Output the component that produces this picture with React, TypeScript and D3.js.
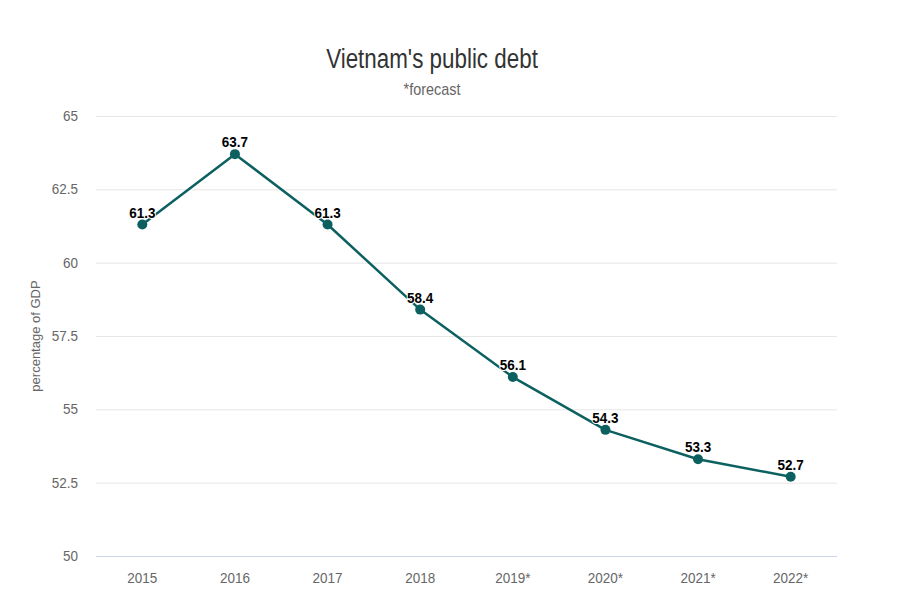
import React, { useRef, useEffect } from 'react';
import * as d3 from 'd3';

// chart data
const years = ['2015', '2016', '2017', '2018', '2019*', '2020*', '2021*', '2022*'];
const debtValues = [61.3, 63.7, 61.3, 58.4, 56.1, 54.3, 53.3, 52.7];
const yTicks = [50, 52.5, 55, 57.5, 60, 62.5, 65];

const LINE_COLOR = '#0c6160';
const FONT = '"Liberation Sans", Arial, sans-serif';

const App = () => {
    const svgRef = useRef<SVGSVGElement>(null);
    const width = 900;
    const height = 600;
    const margin = { top: 116, right: 63, bottom: 44, left: 96 };

    useEffect(() => {
        const svg = d3.select(svgRef.current);
        svg.selectAll('*').remove();

        const innerWidth = width - margin.left - margin.right;
        const innerHeight = height - margin.top - margin.bottom;

        svg.append('rect')
            .attr('width', width)
            .attr('height', height)
            .attr('fill', '#ffffff');

        // title (the original font is a narrow one, so squeeze it a bit)
        svg.append('text')
            .attr('transform', 'translate(432,68) scale(0.8,1)')
            .attr('text-anchor', 'middle')
            .attr('font-family', FONT)
            .attr('font-size', 28)
            .attr('fill', '#333333')
            .text("Vietnam's public debt");

        svg.append('text')
            .attr('transform', 'translate(432,95) scale(0.9,1)')
            .attr('text-anchor', 'middle')
            .attr('font-family', FONT)
            .attr('font-size', 16)
            .attr('fill', '#666666')
            .text('*forecast');

        const xScale = d3.scaleBand()
            .domain(years)
            .range([0, innerWidth]);

        const yScale = d3.scaleLinear()
            .domain([50, 65])
            .range([innerHeight, 0]);

        const g = svg.append('g')
            .attr('transform', `translate(${margin.left},${margin.top})`);

        // gridlines
        g.selectAll('.grid')
            .data(yTicks.filter(t => t !== 50))
            .enter()
            .append('line')
            .attr('x1', 0)
            .attr('x2', innerWidth)
            .attr('y1', d => yScale(d) + 0.5)
            .attr('y2', d => yScale(d) + 0.5)
            .attr('stroke', '#e6e6e6')
            .attr('stroke-width', 1);

        // baseline
        g.append('line')
            .attr('x1', 0)
            .attr('x2', innerWidth)
            .attr('y1', innerHeight + 0.5)
            .attr('y2', innerHeight + 0.5)
            .attr('stroke', '#ccd6eb')
            .attr('stroke-width', 1);

        // y tick labels
        g.selectAll('.ytick')
            .data(yTicks)
            .enter()
            .append('text')
            .attr('transform', d => `translate(-18,${yScale(d) + 5}) scale(0.9,1)`)
            .attr('text-anchor', 'end')
            .attr('font-family', FONT)
            .attr('font-size', 15)
            .attr('fill', '#666666')
            .text(d => String(d));

        // x tick labels
        g.selectAll('.xtick')
            .data(years)
            .enter()
            .append('text')
            .attr('transform', d => `translate(${(xScale(d) ?? 0) + xScale.bandwidth() / 2},${innerHeight + 27}) scale(0.9,1)`)
            .attr('text-anchor', 'middle')
            .attr('font-family', FONT)
            .attr('font-size', 15)
            .attr('fill', '#666666')
            .text(d => d);

        // y axis title
        svg.append('text')
            .attr('transform', `translate(40,${margin.top + innerHeight / 2}) rotate(-90)`)
            .attr('text-anchor', 'middle')
            .attr('font-family', FONT)
            .attr('font-size', 13)
            .attr('fill', '#666666')
            .text('percentage of GDP');

        const points = years.map((y, i) => ({ label: y, value: debtValues[i] }));
        const xPos = (d: { label: string }) => (xScale(d.label) ?? 0) + xScale.bandwidth() / 2;

        const line = d3.line<{ label: string; value: number }>()
            .x(d => xPos(d))
            .y(d => yScale(d.value));

        g.append('path')
            .datum(points)
            .attr('d', line)
            .attr('fill', 'none')
            .attr('stroke', LINE_COLOR)
            .attr('stroke-width', 2.5)
            .attr('stroke-linejoin', 'round');

        g.selectAll('.dot')
            .data(points)
            .enter()
            .append('circle')
            .attr('cx', d => xPos(d))
            .attr('cy', d => yScale(d.value))
            .attr('r', 5)
            .attr('fill', LINE_COLOR);

        // data labels
        g.selectAll('.label')
            .data(points)
            .enter()
            .append('text')
            .attr('transform', d => `translate(${xPos(d)},${yScale(d.value) - 7}) scale(0.9,1)`)
            .attr('text-anchor', 'middle')
            .attr('font-family', FONT)
            .attr('font-size', 15)
            .attr('font-weight', 'bold')
            .attr('fill', '#000000')
            .attr('stroke', '#ffffff')
            .attr('stroke-width', 2)
            .attr('paint-order', 'stroke')
            .text(d => d.value.toFixed(1));
    }, []);

    return (
        <svg
            ref={svgRef}
            width={width}
            height={height}
            style={{ position: 'absolute', left: 0, top: 0, display: 'block' }}
        ></svg>
    );
};

export default App;
